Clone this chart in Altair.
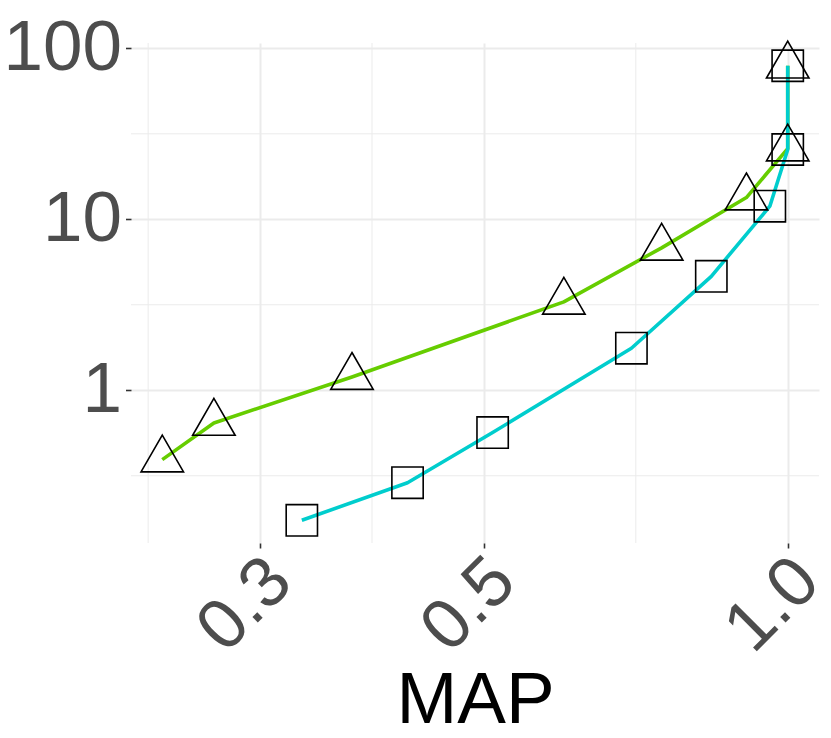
import altair as alt
import pandas as pd
import math

# ---- data ----
map_tri = [0.24, 0.27, 0.37, 0.60, 0.75, 0.91, 1.0, 1.0]
val_tri = [0.393, 0.644, 1.195, 3.29, 6.81, 13.4, 25.9, 79.1]
map_sq = [0.33, 0.42, 0.51, 0.70, 0.84, 0.96, 1.0, 1.0]
val_sq = [0.1737, 0.288, 0.566, 1.762, 4.64, 11.93, 25.6, 79.1]

x_ticks = [0.3, 0.5, 1.0]
y_ticks = [1, 10, 100]

GREEN = "#66CD00"
CYAN = "#00CDCD"

tri = pd.DataFrame({"MAP": map_tri, "val": val_tri, "idx": range(len(map_tri))})
sq = pd.DataFrame({"MAP": map_sq, "val": val_sq, "idx": range(len(map_sq))})

# ggplot-like 5% expansion in log space
def expand(vals):
    lo, hi = math.log10(min(vals)), math.log10(max(vals))
    r = hi - lo
    return [10 ** (lo - 0.05 * r), 10 ** (hi + 0.05 * r)]

xdom = expand(map_tri + map_sq)
ydom = expand(val_tri + val_sq)

# minor grid: midpoints (in log space) between major breaks
def minors(breaks, dom):
    lb = [math.log10(b) for b in breaks]
    step = (lb[1] - lb[0]) / 2
    out = [10 ** (lb[0] - step)] + [10 ** ((a + b) / 2) for a, b in zip(lb[:-1], lb[1:])]
    out.append(10 ** (lb[-1] + (lb[-1] - lb[-2]) / 2))
    return [m for m in out if dom[0] <= m <= dom[1]]

y_minor = [10 ** (math.log10(y_ticks[0]) - 0.5)] + [10 ** (math.log10(v) + 0.5) for v in y_ticks]
y_minor = [m for m in y_minor if ydom[0] <= m <= ydom[1]]
x_minor = minors(x_ticks, xdom)

xs = alt.Scale(type="log", domain=xdom, nice=False, zero=False)
ys = alt.Scale(type="log", domain=ydom, nice=False, zero=False)

GRID = "#EBEBEB"
LAB = "#4D4D4D"
FONT = "Liberation Sans"

xaxis = alt.Axis(values=x_ticks, format=".1f", title="MAP", grid=True,
                 gridColor=GRID, gridWidth=2, domain=False,
                 ticks=True, tickSize=5, tickColor="#333333", tickWidth=1.6,
                 labelFont=FONT, labelFontSize=71, labelColor=LAB,
                 labelAngle=-45, labelAlign="right", labelBaseline="top",
                 labelPadding=-3, labelOffset=-5, labelOverlap=False, labelFlush=False,
                 titleFont=FONT, titleFontSize=73, titleColor="black",
                 titleFontWeight="normal", titleBaseline="alphabetic",
                 titleY=179, titleX=344, titleAnchor="middle")
yaxis = alt.Axis(values=y_ticks, format="d", title=None, grid=True,
                 gridColor=GRID, gridWidth=2, domain=False,
                 ticks=True, tickSize=5.5, tickColor="#333333", tickWidth=1.6,
                 labelFont=FONT, labelFontSize=71, labelColor=LAB,
                 labelPadding=4, labelOverlap=False, labelFlush=False,
                 labelBaseline="middle")

xminor_df = pd.DataFrame({"m": x_minor})
yminor_df = pd.DataFrame({"m": y_minor})

gx = alt.Chart(xminor_df).mark_rule(color=GRID, strokeWidth=1).encode(
    x=alt.X("m:Q", scale=xs, axis=xaxis))
gy = alt.Chart(yminor_df).mark_rule(color=GRID, strokeWidth=1).encode(
    y=alt.Y("m:Q", scale=ys, axis=yaxis))

def line(df, col):
    return alt.Chart(df).mark_line(color=col, strokeWidth=3.6, strokeCap="butt",
                                   strokeJoin="round").encode(
        x=alt.X("MAP:Q", scale=xs, axis=xaxis),
        y=alt.Y("val:Q", scale=ys, axis=yaxis),
        order=alt.Order("idx:Q"))

TRI = "M0,-1L0.866,0.5L-0.866,0.5Z"

p_tri = alt.Chart(tri).mark_point(shape=TRI, size=2410, filled=False,
                                  stroke="black", strokeWidth=1.6, opacity=1).encode(
    x=alt.X("MAP:Q", scale=xs, axis=xaxis), y=alt.Y("val:Q", scale=ys, axis=yaxis))
p_sq = alt.Chart(sq).mark_point(shape="square", size=980, filled=False,
                                stroke="black", strokeWidth=1.6, opacity=1).encode(
    x=alt.X("MAP:Q", scale=xs, axis=xaxis), y=alt.Y("val:Q", scale=ys, axis=yaxis))

chart = alt.layer(gx, gy, line(tri, GREEN), line(sq, CYAN), p_tri, p_sq).properties(
    width=688, height=500,
    autosize=alt.AutoSizeParams(type="none"),
    padding={"left": 123, "top": 35, "right": 4, "bottom": 187},
).configure(background="white").configure_view(stroke=None)

chart.save("out.html", embed_options={"renderer": "svg", "actions": False})
